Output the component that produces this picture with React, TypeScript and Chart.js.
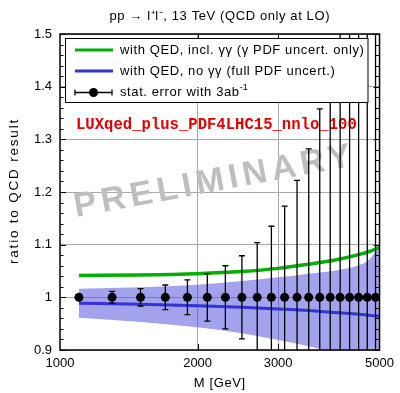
import React, { useEffect, useRef } from 'react';
import { Chart, registerables } from 'chart.js';

Chart.register(...registerables);

// ---- data ----
const pointMass = [1100, 1300, 1500, 1700, 1900, 2100, 2300, 2500, 2700, 2900, 3100, 3300, 3500, 3700, 3900, 4100, 4300, 4500, 4700, 4900];
const pointRatio = [1, 1, 1, 1, 1, 1, 1, 1, 1, 1, 1, 1, 1, 1, 1, 1, 1, 1, 1, 1];
const statErr = [0.004, 0.0114, 0.0165, 0.0234, 0.033, 0.045, 0.06, 0.079, 0.104, 0.135, 0.173, 0.222, 0.282, 0.358, 0.45, 0.57, 0.72, 0.9, 1.1, 1.4];

const curveMass = [1100, 1500, 2000, 2500, 3000, 3500, 4000, 4500, 4750, 5000];
const withGammaGamma = [1.0415, 1.0425, 1.045, 1.049, 1.055, 1.063, 1.071, 1.081, 1.087, 1.095];
const noGammaGamma = [0.989, 0.987, 0.984, 0.981, 0.978, 0.975, 0.971, 0.968, 0.966, 0.964];
const pdfBandHigh = [1.0165, 1.019, 1.024, 1.031, 1.038, 1.045, 1.051, 1.061, 1.072, 1.098];
const pdfBandLow = [0.961, 0.953, 0.943, 0.932, 0.919, 0.907, 0.893, 0.872, 0.857, 0.84];

const xTickValues = [1000, 2000, 3000, 5000];
const xInnerTicks = [2000, 3000];
const yTickValues = [0.9, 1.0, 1.1, 1.2, 1.3, 1.4, 1.5];
const yMinorTicks = [0.92, 0.94, 0.96, 0.98, 1.02, 1.04, 1.06, 1.08, 1.12, 1.14, 1.16, 1.18, 1.22, 1.24, 1.26, 1.28, 1.32, 1.34, 1.36, 1.38, 1.42, 1.44, 1.46, 1.48];

const titleText = 'pp \u2192 l\u207Al\u207B, 13 TeV (QCD only at LO)';
const xTitle = 'M [GeV]';
const yTitle = 'ratio to QCD result';
const legendLabels = [
  'with QED, incl. \u03B3\u03B3 (\u03B3 PDF uncert. only)',
  'with QED, no \u03B3\u03B3 (full PDF uncert.)',
  'stat. error with 3ab',
];
const legendSup = '-1';
const pdfSetLabel = 'LUXqed_plus_PDF4LHC15_nnlo_100';
const watermark = 'PRELIMINARY';

const GREEN = '#00b000';
const BLUE = '#3434d4';
const BAND = 'rgba(70,70,220,0.5)';
const SANS = "'Liberation Sans', Arial, Helvetica, sans-serif";

const decorPlugin = {
  id: 'decor',
  beforeDatasetsDraw(chart: any) {
    const ctx = chart.ctx;
    const ca = chart.chartArea;
    ctx.save();
    ctx.beginPath();
    ctx.rect(ca.left, ca.top, ca.right - ca.left, ca.bottom - ca.top);
    ctx.clip();
    // watermark
    ctx.save();
    ctx.translate(76, 217);
    ctx.rotate((-10.5 * Math.PI) / 180);
    ctx.font = `bold 34px ${SANS}`;
    (ctx as any).letterSpacing = '4.8px';
    ctx.fillStyle = '#bebebe';
    ctx.textAlign = 'left';
    ctx.textBaseline = 'alphabetic';
    ctx.fillText(watermark, 0, 0);
    ctx.restore();
    // pdf set label
    ctx.font = `bold 15.6px 'Liberation Mono', 'Courier New', monospace`;
    ctx.fillStyle = '#e00000';
    ctx.textAlign = 'left';
    ctx.textBaseline = 'alphabetic';
    ctx.fillText(pdfSetLabel, 76, 129);
    ctx.restore();
  },
  beforeDatasetDraw(chart: any, args: any) {
    if (args.index !== 0) return;
    const ctx = chart.ctx;
    const ca = chart.chartArea;
    const xs = chart.scales.x;
    const ys = chart.scales.y;
    ctx.save();
    ctx.beginPath();
    ctx.rect(ca.left, ca.top, ca.right - ca.left, ca.bottom - ca.top);
    ctx.clip();
    ctx.strokeStyle = '#000';
    ctx.lineWidth = 1.3;
    for (let i = 0; i < pointMass.length; i++) {
      const x = xs.getPixelForValue(pointMass[i]);
      const yt = ys.getPixelForValue(pointRatio[i] + statErr[i]);
      const yb = ys.getPixelForValue(pointRatio[i] - statErr[i]);
      ctx.beginPath();
      ctx.moveTo(x, yt);
      ctx.lineTo(x, yb);
      ctx.moveTo(x - 3, yt);
      ctx.lineTo(x + 3, yt);
      ctx.moveTo(x - 3, yb);
      ctx.lineTo(x + 3, yb);
      ctx.stroke();
    }
    ctx.restore();
  },
  afterDraw(chart: any) {
    const ctx = chart.ctx;
    const ca = chart.chartArea;
    const xs = chart.scales.x;
    const ys = chart.scales.y;
    ctx.save();
    // inward ticks
    ctx.strokeStyle = '#000';
    ctx.lineWidth = 1;
    ctx.beginPath();
    for (const v of yTickValues) {
      const y = Math.round(ys.getPixelForValue(v)) + 0.5;
      ctx.moveTo(ca.left, y); ctx.lineTo(ca.left + 6, y);
      ctx.moveTo(ca.right, y); ctx.lineTo(ca.right - 6, y);
    }
    for (const v of yMinorTicks) {
      const y = Math.round(ys.getPixelForValue(v)) + 0.5;
      ctx.moveTo(ca.left, y); ctx.lineTo(ca.left + 3.5, y);
      ctx.moveTo(ca.right, y); ctx.lineTo(ca.right - 3.5, y);
    }
    for (const v of xInnerTicks) {
      const x = Math.round(xs.getPixelForValue(v)) + 0.5;
      ctx.moveTo(x, ca.bottom); ctx.lineTo(x, ca.bottom - 6);
      ctx.moveTo(x, ca.top); ctx.lineTo(x, ca.top + 6);
    }
    ctx.stroke();
    // frame
    ctx.lineWidth = 1.5;
    ctx.strokeRect(ca.left, ca.top, ca.right - ca.left, ca.bottom - ca.top);

    // titles
    const cx = (ca.left + ca.right) / 2;
    ctx.fillStyle = '#000';
    ctx.textAlign = 'center';
    ctx.textBaseline = 'middle';
    ctx.font = `13px ${SANS}`;
    (ctx as any).letterSpacing = '0.6px';
    ctx.fillText(titleText, cx, 16);
    ctx.fillText(xTitle, cx, 383);
    ctx.save();
    ctx.translate(14, (ca.top + ca.bottom) / 2 - 1);
    ctx.rotate(-Math.PI / 2);
    ctx.font = `13.5px ${SANS}`;
    (ctx as any).letterSpacing = '1.8px';
    ctx.fillText(yTitle, 0, 0);
    ctx.restore();

    // legend
    const lx = 65.5, ly = 38.5, lw = 302.5, lh = 64;
    ctx.fillStyle = '#fff';
    ctx.fillRect(lx, ly, lw, lh);
    ctx.lineWidth = 1;
    ctx.strokeStyle = '#000';
    ctx.strokeRect(lx, ly, lw, lh);
    const rowY = [50, 71, 92.5];
    ctx.lineWidth = 3;
    ctx.strokeStyle = GREEN;
    ctx.beginPath(); ctx.moveTo(75, rowY[0]); ctx.lineTo(113, rowY[0]); ctx.stroke();
    ctx.strokeStyle = BLUE;
    ctx.beginPath(); ctx.moveTo(75, rowY[1]); ctx.lineTo(113, rowY[1]); ctx.stroke();
    ctx.strokeStyle = '#000';
    ctx.lineWidth = 1.3;
    ctx.beginPath();
    ctx.moveTo(75, rowY[2]); ctx.lineTo(112, rowY[2]);
    ctx.moveTo(75, rowY[2] - 3); ctx.lineTo(75, rowY[2] + 3);
    ctx.moveTo(112, rowY[2] - 3); ctx.lineTo(112, rowY[2] + 3);
    ctx.stroke();
    ctx.fillStyle = '#000';
    ctx.beginPath(); ctx.arc(93.5, rowY[2], 4.5, 0, Math.PI * 2); ctx.fill();
    ctx.font = `13px ${SANS}`;
    (ctx as any).letterSpacing = '0.6px';
    ctx.textAlign = 'left';
    ctx.textBaseline = 'middle';
    ctx.fillText(legendLabels[0], 120, rowY[0]);
    ctx.fillText(legendLabels[1], 120, rowY[1]);
    ctx.fillText(legendLabels[2], 120, rowY[2]);
    const w = ctx.measureText(legendLabels[2]).width;
    ctx.font = `9px ${SANS}`;
    (ctx as any).letterSpacing = '0px';
    ctx.fillText(legendSup, 120 + w, rowY[2] - 5);
    ctx.restore();
  },
};

export default function App() {
  const ref = useRef<HTMLCanvasElement | null>(null);
  useEffect(() => {
    if (!ref.current) return;
    const pts = pointMass.map((m, i) => ({ x: m, y: pointRatio[i] }));
    const mk = (arr: number[]) => curveMass.map((m, i) => ({ x: m, y: arr[i] }));
    const chart = new Chart(ref.current, {
      type: 'scatter',
      data: {
        datasets: [
          {
            label: 'stat',
            data: pts,
            showLine: false,
            pointRadius: 4.5,
            pointBackgroundColor: '#000',
            pointBorderWidth: 0,
            pointBorderColor: '#000',
          },
          {
            label: 'green',
            data: mk(withGammaGamma),
            showLine: true,
            borderColor: GREEN,
            borderWidth: 3.5,
            pointRadius: 0,
            cubicInterpolationMode: 'monotone',
            fill: false,
          },
          {
            label: 'blue',
            data: mk(noGammaGamma),
            showLine: true,
            borderColor: BLUE,
            borderWidth: 3,
            pointRadius: 0,
            cubicInterpolationMode: 'monotone',
            fill: false,
          },
          {
            label: 'bandHi',
            data: mk(pdfBandHigh),
            showLine: true,
            borderWidth: 0,
            borderColor: 'rgba(0,0,0,0)',
            backgroundColor: BAND,
            pointRadius: 0,
            cubicInterpolationMode: 'monotone',
            fill: '+1',
          },
          {
            label: 'bandLo',
            data: mk(pdfBandLow),
            showLine: true,
            borderWidth: 0,
            borderColor: 'rgba(0,0,0,0)',
            pointRadius: 0,
            cubicInterpolationMode: 'monotone',
            fill: false,
          },
        ],
      } as any,
      options: {
        responsive: false,
        animation: false,
        devicePixelRatio: 1,
        layout: { padding: { left: 0, right: 18, top: 34, bottom: 0 } },
        plugins: {
          legend: { display: false },
          tooltip: { enabled: false },
          title: { display: false },
        },
        scales: {
          x: {
            type: 'logarithmic',
            min: 1000,
            max: 5000,
            afterBuildTicks: (s: any) => {
              s.ticks = xTickValues.map((v) => ({ value: v }));
            },
            afterFit: (s: any) => {
              s.height = 43;
            },
            ticks: {
              autoSkip: false,
              maxRotation: 0,
              color: '#000',
              padding: 6,
              font: { family: SANS, size: 13 },
              callback: (v: any) => String(v),
            },
            grid: {
              drawTicks: false,
              color: (c: any) => (c.tick && (c.tick.value === 1000 || c.tick.value === 5000) ? 'rgba(0,0,0,0)' : '#a8a8a8'),
            },
            border: { display: false },
            title: { display: false },
          },
          y: {
            type: 'linear',
            min: 0.9,
            max: 1.5,
            afterBuildTicks: (s: any) => {
              s.ticks = yTickValues.map((v) => ({ value: v }));
            },
            afterFit: (s: any) => {
              s.width = 60;
            },
            ticks: {
              color: '#000',
              padding: 8,
              font: { family: SANS, size: 13 },
              callback: (v: any) => (Math.abs(v - 1) < 1e-9 ? '1' : Number(v).toFixed(1)),
            },
            grid: {
              drawTicks: false,
              color: '#a8a8a8',
            },
            border: { display: false },
            title: { display: false },
          },
        },
      } as any,
      plugins: [decorPlugin],
    });
    return () => chart.destroy();
  }, []);
  return (
    <div style={{ position: 'fixed', left: 0, top: 0, width: 400, height: 393, background: '#fff' }}>
      <canvas ref={ref} width={400} height={393} style={{ display: 'block', width: 400, height: 393 }} />
    </div>
  );
}
